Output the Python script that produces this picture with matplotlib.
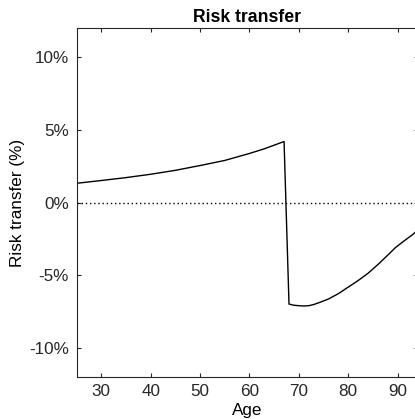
import matplotlib
matplotlib.use("Agg")
import matplotlib.pyplot as plt
from matplotlib.ticker import FuncFormatter

plt.rcParams['font.family'] = ['Liberation Sans', 'DejaVu Sans']

# age / risk transfer (%)
ages = [25, 30, 35, 40, 45, 50, 55, 60, 63, 65, 67,
        68, 69, 70, 71, 72, 73, 74, 76, 78, 80, 82, 84, 86, 88, 89.5, 91, 93, 94]
risk = [1.33, 1.52, 1.72, 1.95, 2.22, 2.55, 2.90, 3.38, 3.70, 3.95, 4.20,
        -6.97, -7.05, -7.08, -7.10, -7.08, -7.00, -6.88, -6.62, -6.25, -5.80,
        -5.35, -4.85, -4.25, -3.60, -3.10, -2.70, -2.20, -1.90]

xticks = [30, 40, 50, 60, 70, 80, 90]
yticks = [-10, -5, 0, 5, 10]

fig = plt.figure(figsize=(4.15, 4.19), dpi=100)
ax = fig.add_axes([76.5 / 415, 41.7 / 419, 341 / 415, 349.3 / 419])

ax.plot(ages, risk, color='black', lw=1.0)
ax.axhline(0, color='black', lw=1.0, linestyle=(0, (1, 2)))

ax.set_xlim(25, 94)
ax.set_ylim(-12, 12)
ax.set_xticks(xticks)
ax.set_yticks(yticks)
ax.yaxis.set_major_formatter(FuncFormatter(lambda v, p: '%d%%' % v))

ax.tick_params(direction='in', top=True, right=True, length=3, width=0.8,
               labelsize=12.3, colors='#262626')
ax.tick_params(axis='x', pad=5)
ax.tick_params(axis='y', pad=5.5)
for s in ax.spines.values():
    s.set_color('#262626')
    s.set_linewidth(0.8)

ax.set_title('Risk transfer', fontsize=12.7, fontweight='bold', pad=4)
ax.set_xlabel('Age', fontsize=12.3, labelpad=3)
ax.set_ylabel('Risk transfer (%)', fontsize=12.3, labelpad=3)

fig.savefig('out.png', dpi=100)
